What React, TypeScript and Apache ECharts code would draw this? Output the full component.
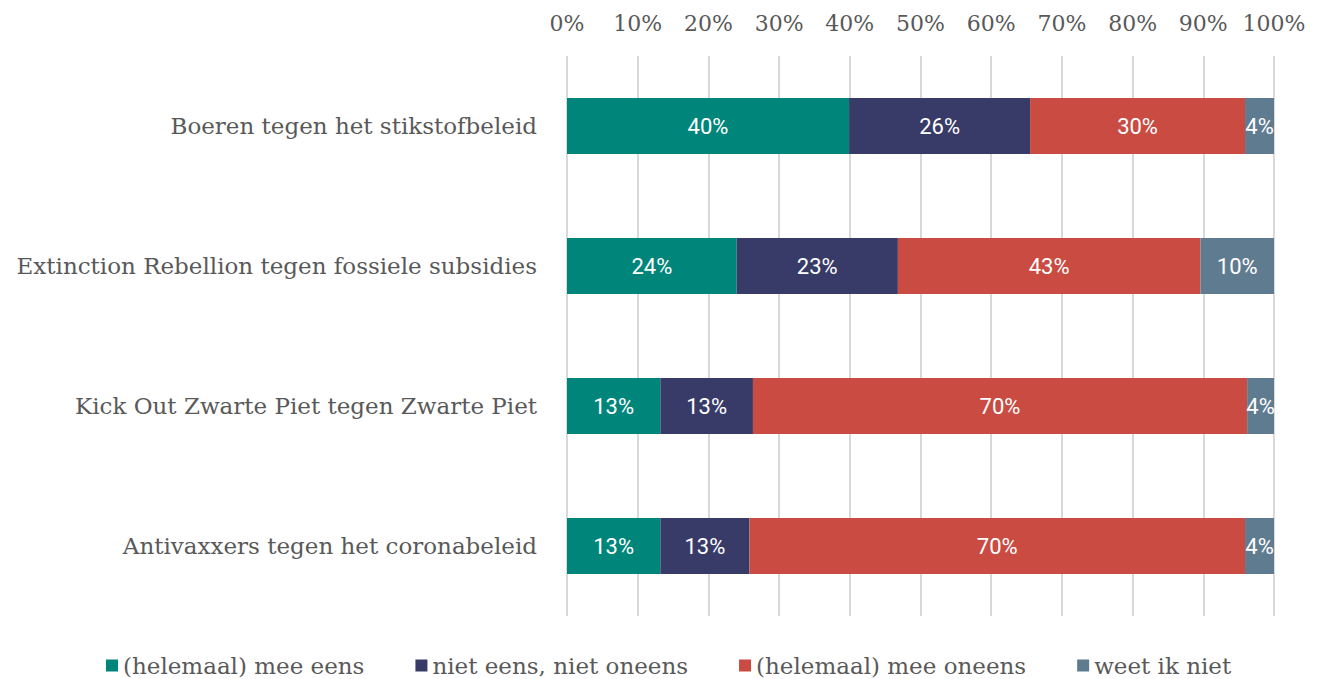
import React, { useEffect, useRef } from "react";
import * as echarts from "echarts";

const categories = [
  "Boeren tegen het stikstofbeleid",
  "Extinction Rebellion tegen fossiele subsidies",
  "Kick Out Zwarte Piet tegen Zwarte Piet",
  "Antivaxxers tegen het coronabeleid",
];
const seriesNames = [
  "(helemaal) mee eens",
  "niet eens, niet oneens",
  "(helemaal) mee oneens",
  "weet ik niet",
];
const meeEens = [39.9, 24.0, 13.2, 13.2];
const neutraal = [25.6, 22.8, 13.1, 12.6];
const meeOneens = [30.4, 42.8, 69.9, 70.1];
const weetNiet = [4.1, 10.4, 3.8, 4.1];
const colors = ["#00857A", "#383A67", "#C94B42", "#5F7B90"];
const tickLabels = ["0%", "10%", "20%", "30%", "40%", "50%", "60%", "70%", "80%", "90%", "100%"];

export default function App() {
  const ref = useRef<HTMLDivElement>(null);
  useEffect(() => {
    if (!ref.current) return;
    const chart = echarts.init(ref.current, null, { renderer: "svg" });
    const data = [meeEens, neutraal, meeOneens, weetNiet];
    chart.setOption({
      animation: false,
      color: colors,
      grid: { left: 559, right: 42, top: 48, bottom: 63, containLabel: false },
      xAxis: {
        type: "value",
        position: "top",
        min: 0,
        max: 100,
        interval: 10,
        axisLine: { show: false },
        axisTick: { show: false },
        splitLine: { show: true, lineStyle: { color: "#D9D9D9", width: 2 } },
        axisLabel: {
          formatter: (v: number) => tickLabels[Math.round(v / 10)],
          color: "#595959",
          fontFamily: "DejaVu Serif",
          fontSize: 22,
          margin: 22,
        },
      },
      yAxis: {
        type: "category",
        data: categories,
        inverse: true,
        axisLine: { show: false },
        axisTick: { show: false },
        axisLabel: {
          color: "#595959",
          fontFamily: "DejaVu Serif",
          fontSize: 23,
          margin: 30,
        },
      },
      legend: {
        top: 641,
        left: 93,
        itemWidth: 12,
        itemHeight: 12,
        itemGap: 51,
        icon: "rect",
        textStyle: {
          color: "#595959",
          fontFamily: "DejaVu Serif",
          fontSize: 23,
        },
        data: seriesNames,
      },
      series: seriesNames.map((name, i) => ({
        name,
        type: "bar",
        stack: "total",
        barWidth: "40%",
        data: data[i],
        itemStyle: { color: colors[i] },
        label: {
          show: true,
          position: "inside",
          color: "#FFFFFF",
          fontFamily: "Roboto",
          fontSize: 22,
          formatter: (p: any) => Math.round(p.value) + "%",
        },
      })),
    });
    return () => chart.dispose();
  }, []);
  return <div ref={ref} style={{ width: 1308, height: 671 }} />;
}
